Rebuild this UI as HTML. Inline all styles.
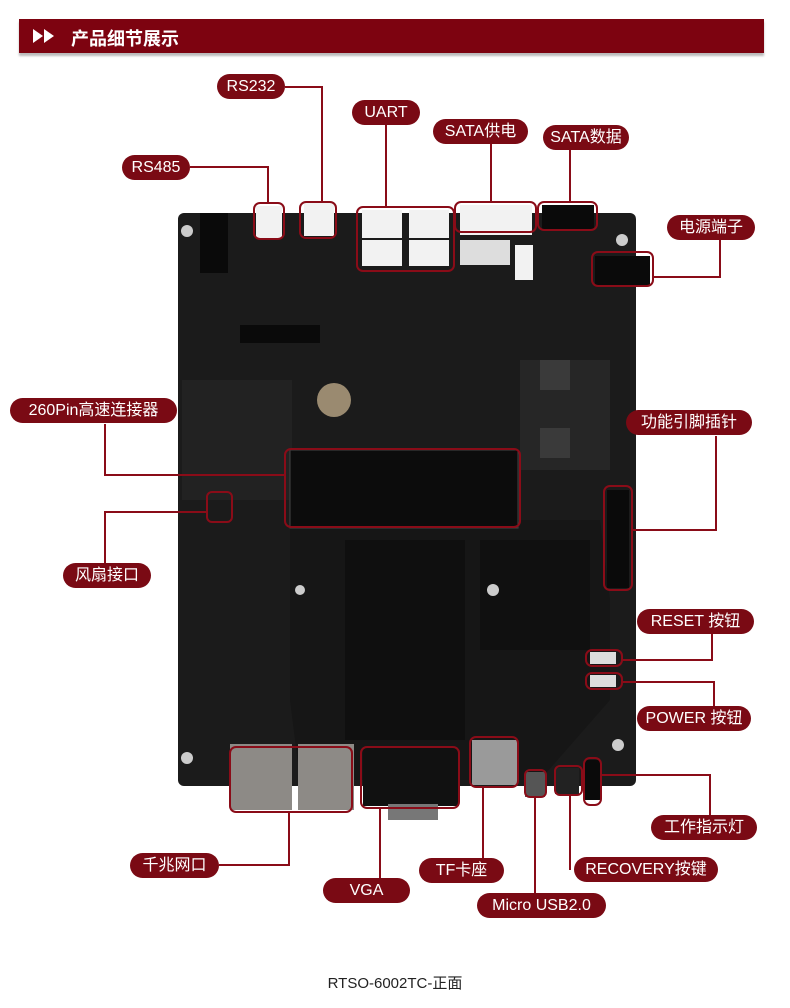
<!DOCTYPE html>
<html><head><meta charset="utf-8"><style>
body{margin:0;background:#fff;}
#w{position:relative;width:790px;height:1008px;overflow:hidden;background:#fff;font-family:"Liberation Sans","Noto Sans CJK SC",sans-serif;}
.hdr{position:absolute;left:19px;top:19px;width:745px;height:34px;background:#7d0310;box-shadow:0 3px 2px #bbb;}
.hdr span{position:absolute;left:52px;top:6px;color:#fff;font-size:18px;font-weight:bold;}
.p{position:absolute;height:25px;line-height:25px;background:#7a0a14;color:#fff;border-radius:13px;text-align:center;font-size:16px;white-space:nowrap;}
.a{position:absolute;}
svg{position:absolute;left:0;top:0;}
.cap{position:absolute;left:0;width:790px;top:972px;text-align:center;font-size:15px;color:#222;}
</style></head><body><div id="w">
<div class="hdr"><svg width="50" height="34" style="left:0;top:0"><polygon points="14,10 24,17 14,24" fill="#fff"/><polygon points="25,10 35,17 25,24" fill="#fff"/></svg><span>产品细节展示</span></div>

<svg width="790" height="1008">
<!-- board -->
<rect x="178" y="213" width="458" height="573" rx="6" fill="#1b1b1b"/>
<rect x="182" y="380" width="110" height="120" fill="#222"/>
<path d="M290 520 L600 520 L610 600 L610 700 L540 780 L300 780 L290 700 Z" fill="#161616"/>
<rect x="345" y="540" width="120" height="200" fill="#0f0f0f"/>
<rect x="480" y="540" width="110" height="110" fill="#101010"/>
<rect x="520" y="360" width="90" height="110" fill="#262626"/>
<rect x="540" y="360" width="30" height="30" fill="#3a3a3a"/>
<rect x="540" y="428" width="30" height="30" fill="#3a3a3a"/>
<circle cx="334" cy="400" r="17" fill="#9a8a70"/>
<rect x="290" y="450" width="228" height="78" fill="#0c0c0c" stroke="#444"/>
<rect x="200" y="213" width="28" height="60" fill="#0a0a0a"/>
<rect x="240" y="325" width="80" height="18" fill="#0a0a0a"/>
<rect x="607" y="490" width="22" height="98" fill="#0a0a0a"/>
<g fill="#ccc"><circle cx="187" cy="231" r="6"/><circle cx="622" cy="240" r="6"/><circle cx="187" cy="758" r="6"/><circle cx="618" cy="745" r="6"/><circle cx="493" cy="590" r="6"/><circle cx="300" cy="590" r="5"/></g>
<!-- connectors top -->
<g fill="#f2f2f2"><rect x="256" y="206" width="26" height="32"/><rect x="304" y="202" width="30" height="34"/><rect x="362" y="210" width="40" height="28"/><rect x="409" y="210" width="40" height="28"/><rect x="362" y="240" width="40" height="26"/><rect x="409" y="240" width="40" height="26"/><rect x="460" y="205" width="72" height="30"/><rect x="460" y="240" width="50" height="25" fill="#ddd"/><rect x="515" y="245" width="18" height="35"/></g>
<rect x="542" y="205" width="52" height="24" fill="#0a0a0a"/>
<rect x="595" y="256" width="55" height="30" fill="#0a0a0a"/>
<!-- bottom ports -->
<rect x="230" y="744" width="62" height="66" fill="#8d8a86"/><rect x="298" y="744" width="56" height="66" fill="#8d8a86"/>
<rect x="363" y="748" width="96" height="58" fill="#111"/><rect x="388" y="804" width="50" height="16" fill="#777"/>
<rect x="472" y="740" width="45" height="45" fill="#9a9a9a"/>
<rect x="525" y="772" width="20" height="25" fill="#555"/><rect x="555" y="768" width="24" height="26" fill="#222"/><rect x="584" y="760" width="16" height="40" fill="#0a0a0a"/>
<rect x="590" y="652" width="26" height="12" fill="#ddd"/><rect x="590" y="675" width="26" height="12" fill="#ddd"/>
<!-- highlight boxes -->
<g fill="none" stroke="#8a0c18" stroke-width="2">
<rect x="254" y="203" width="30" height="36" rx="6"/><rect x="300" y="202" width="36" height="36" rx="6"/>
<rect x="357" y="207" width="97" height="64" rx="6"/><rect x="455" y="202" width="81" height="30" rx="6"/>
<rect x="538" y="202" width="59" height="28" rx="6"/><rect x="592" y="252" width="61" height="34" rx="6"/>
<rect x="285" y="449" width="235" height="78" rx="6"/><rect x="604" y="486" width="28" height="104" rx="6"/>
<rect x="207" y="492" width="25" height="30" rx="5"/>
<rect x="586" y="650" width="36" height="16" rx="6"/><rect x="586" y="673" width="36" height="16" rx="6"/>
<rect x="230" y="747" width="122" height="65" rx="6"/><rect x="361" y="747" width="98" height="61" rx="6"/>
<rect x="470" y="737" width="48" height="50" rx="6"/><rect x="525" y="770" width="21" height="27" rx="5"/>
<rect x="555" y="766" width="27" height="29" rx="5"/><rect x="584" y="758" width="17" height="47" rx="6"/>
</g>
<!-- leader lines -->
<g fill="none" stroke="#8a0c18" stroke-width="2">
<polyline points="285,87 322,87 322,203"/>
<polyline points="386,124 386,207"/>
<polyline points="491,143 491,202"/>
<polyline points="570,150 570,202"/>
<polyline points="190,167 268,167 268,203"/>
<polyline points="720,240 720,277 653,277"/>
<polyline points="105,424 105,475 285,475"/>
<polyline points="716,436 716,530 632,530"/>
<polyline points="105,563 105,512 207,512"/>
<polyline points="712,634 712,660 622,660"/>
<polyline points="714,706 714,682 622,682"/>
<polyline points="710,815 710,775 601,775"/>
<polyline points="219,865 289,865 289,812"/>
<polyline points="380,878 380,808"/>
<polyline points="483,858 483,787"/>
<polyline points="570,870 570,795"/>
<polyline points="535,893 535,797"/>
</g>
</svg>

<div class="p" style="left:217px;top:74px;width:68px">RS232</div>
<div class="p" style="left:352px;top:100px;width:68px">UART</div>
<div class="p" style="left:433px;top:119px;width:95px">SATA供电</div>
<div class="p" style="left:543px;top:125px;width:86px">SATA数据</div>
<div class="p" style="left:122px;top:155px;width:68px">RS485</div>
<div class="p" style="left:667px;top:215px;width:88px">电源端子</div>
<div class="p" style="left:10px;top:398px;width:167px">260Pin高速连接器</div>
<div class="p" style="left:626px;top:410px;width:126px">功能引脚插针</div>
<div class="p" style="left:63px;top:563px;width:88px">风扇接口</div>
<div class="p" style="left:637px;top:609px;width:117px">RESET 按钮</div>
<div class="p" style="left:637px;top:706px;width:114px">POWER 按钮</div>
<div class="p" style="left:651px;top:815px;width:106px">工作指示灯</div>
<div class="p" style="left:130px;top:853px;width:89px">千兆网口</div>
<div class="p" style="left:323px;top:878px;width:87px">VGA</div>
<div class="p" style="left:419px;top:858px;width:85px">TF卡座</div>
<div class="p" style="left:574px;top:857px;width:144px">RECOVERY按键</div>
<div class="p" style="left:477px;top:893px;width:129px">Micro USB2.0</div>
<div class="cap">RTSO-6002TC-正面</div>
</div></body></html>
